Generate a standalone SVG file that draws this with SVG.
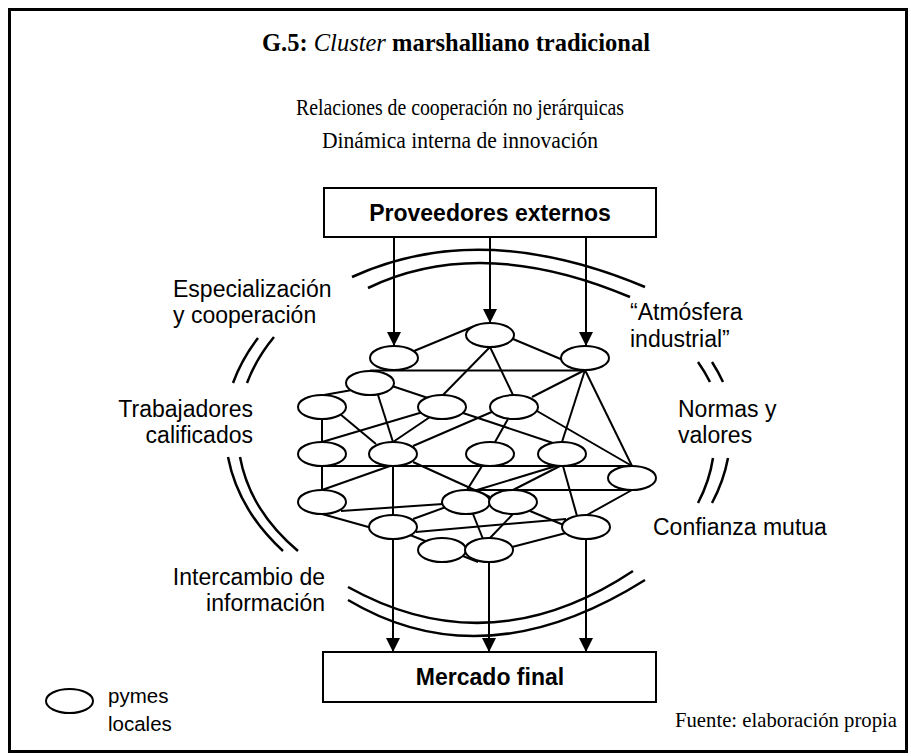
<svg xmlns="http://www.w3.org/2000/svg" width="911" height="756" viewBox="0 0 911 756">
<style>
.serif{font-family:"Liberation Serif","Times New Roman",serif;fill:#000}
.sans{font-family:"Liberation Sans",Arial,sans-serif;fill:#000}
.lbl{font-size:23px}
.box{fill:#fff;stroke:#000;stroke-width:2}
.node{fill:#fff;stroke:#000;stroke-width:2}
.edge{stroke:#000;stroke-width:2;fill:none}
.arc{stroke:#000;stroke-width:2.5;fill:none}
.arr{stroke:#000;stroke-width:2;fill:none;marker-end:url(#ah)}
</style>
<defs>
<marker id="ah" markerUnits="userSpaceOnUse" markerWidth="14" markerHeight="14" refX="14" refY="7" orient="auto">
<path d="M0,0 L14,7 L0,14 z" fill="#000"/>
</marker>
</defs>
<rect x="0" y="0" width="911" height="756" fill="#fff"/>
<rect x="9.5" y="9.5" width="897" height="742" fill="none" stroke="#000" stroke-width="3"/>

<g id="title">
<text class="serif" x="456" y="51" font-size="24.5" font-weight="bold" text-anchor="middle">G.5: <tspan font-style="italic" font-weight="normal">Cluster</tspan> marshalliano tradicional</text>
<text class="serif" x="460" y="115" font-size="24" text-anchor="middle" textLength="328" lengthAdjust="spacingAndGlyphs">Relaciones de cooperación no jerárquicas</text>
<text class="serif" x="460" y="148" font-size="24" text-anchor="middle" textLength="276" lengthAdjust="spacingAndGlyphs">Dinámica interna de innovación</text>
</g>

<g id="arcs">
<path class="arc" d="M352,277 Q481,218 645,287"/>
<path class="arc" d="M368,288 Q481,234 630,297"/>
<path class="arc" d="M258,338 A258,193 0 0 0 233,383"/>
<path class="arc" d="M274,337 A245,180 0 0 0 247,383"/>
<path class="arc" d="M228,457 A258,193 0 0 0 283,551"/>
<path class="arc" d="M240,457 A245,180 0 0 0 298,551"/>
<path class="arc" d="M712,362 A258,193 0 0 1 723,382"/>
<path class="arc" d="M698,362 A245,180 0 0 1 710,382"/>
<path class="arc" d="M728,458 A258,193 0 0 1 712,503"/>
<path class="arc" d="M713,458 A245,180 0 0 1 698,503"/>
<path class="arc" d="M348,600 Q484,681 645,580"/>
<path class="arc" d="M348,587 Q490,666 633,571"/>
</g>

<g id="labels">
<text class="sans lbl" x="173" y="297">Especialización</text>
<text class="sans lbl" x="173" y="323">y cooperación</text>
<text class="sans lbl" x="253" y="417" text-anchor="end">Trabajadores</text>
<text class="sans lbl" x="253" y="443" text-anchor="end">calificados</text>
<text class="sans lbl" x="325" y="585" text-anchor="end">Intercambio de</text>
<text class="sans lbl" x="325" y="611" text-anchor="end">información</text>
<text class="sans lbl" x="630" y="320">“Atmósfera</text>
<text class="sans lbl" x="630" y="347">industrial”</text>
<text class="sans lbl" x="678" y="417">Normas y</text>
<text class="sans lbl" x="678" y="443">valores</text>
<text class="sans lbl" x="653" y="535">Confianza mutua</text>
</g>

<g id="connectors">
<path class="arr" d="M394,237 L394,346"/>
<path class="arr" d="M490,237 L490,323"/>
<path class="arr" d="M586,237 L586,346"/>
<path class="arr" d="M393,539 L393,652"/>
<path class="arr" d="M489,562 L489,652"/>
<path class="arr" d="M586,539 L586,652"/>
<path class="edge" d="M414,351 L472,327"/>
<path class="edge" d="M513,339 L563,360"/>
<path class="edge" d="M370,370.5 L585,370.5"/>
<path class="edge" d="M490,347 L443,395"/>
<path class="edge" d="M490,347 L513,395"/>
<path class="edge" d="M585,370 L532,397"/>
<path class="edge" d="M585,370 L562,442"/>
<path class="edge" d="M585,370 L632,466"/>
<path class="edge" d="M352,390 L324,395"/>
<path class="edge" d="M392,386 L428,398"/>
<path class="edge" d="M378,395 L393,442"/>
<path class="edge" d="M322,419 L322,442"/>
<path class="edge" d="M340,414 L376,444"/>
<path class="edge" d="M423,412 L322,442"/>
<path class="edge" d="M430,417 L393,442"/>
<path class="edge" d="M463,413 L553,443"/>
<path class="edge" d="M508,419 L495,442"/>
<path class="edge" d="M537,411 L632,466"/>
<path class="edge" d="M413,446 L494,411"/>
<path class="edge" d="M322,466 L632,466"/>
<path class="edge" d="M322,466 L322,490"/>
<path class="edge" d="M390,466 L322,490"/>
<path class="edge" d="M393,466 L393,515"/>
<path class="edge" d="M413,462 L490,497"/>
<path class="edge" d="M482,466 L467,490"/>
<path class="edge" d="M556,466 L477,490"/>
<path class="edge" d="M560,466 L513,490"/>
<path class="edge" d="M563,466 L577,516"/>
<path class="edge" d="M466,490 L632,490"/>
<path class="edge" d="M632,490 L587,515"/>
<path class="edge" d="M341,511 L443,504"/>
<path class="edge" d="M322,514 L372,528"/>
<path class="edge" d="M413,519 L446,507"/>
<path class="edge" d="M416,532 L566,519"/>
<path class="edge" d="M530,511 L566,526"/>
<path class="edge" d="M473,514 L483,539"/>
<path class="edge" d="M513,514 L490,538"/>
<path class="edge" d="M512,547 L566,533"/>
<path class="edge" d="M410,535 L478,562"/>
</g>

<g id="proveedores">
<rect class="box" x="324" y="188" width="332" height="49"/>
<text class="sans" x="490" y="221" font-size="23" font-weight="bold" text-anchor="middle">Proveedores externos</text>
</g>
<g id="mercado">
<rect class="box" x="323" y="652" width="333" height="50"/>
<text class="sans" x="490" y="685" font-size="23" font-weight="bold" text-anchor="middle">Mercado final</text>
</g>

<g id="nA"><ellipse class="node" cx="394" cy="358" rx="24" ry="12"/></g>
<g id="nB"><ellipse class="node" cx="490" cy="335" rx="24" ry="12"/></g>
<g id="nC"><ellipse class="node" cx="585" cy="358" rx="24" ry="12"/></g>
<g id="nD"><ellipse class="node" cx="370" cy="383" rx="24" ry="12"/></g>
<g id="nE"><ellipse class="node" cx="322" cy="407" rx="24" ry="12"/></g>
<g id="nF"><ellipse class="node" cx="442" cy="407" rx="24" ry="12"/></g>
<g id="nG"><ellipse class="node" cx="514" cy="407" rx="24" ry="12"/></g>
<g id="nH"><ellipse class="node" cx="322" cy="454" rx="24" ry="12"/></g>
<g id="nI"><ellipse class="node" cx="393" cy="454" rx="24" ry="12"/></g>
<g id="nJ"><ellipse class="node" cx="490" cy="454" rx="24" ry="12"/></g>
<g id="nK"><ellipse class="node" cx="562" cy="454" rx="24" ry="12"/></g>
<g id="nL"><ellipse class="node" cx="632" cy="478" rx="24" ry="12"/></g>
<g id="nM"><ellipse class="node" cx="322" cy="502" rx="24" ry="12"/></g>
<g id="nN"><ellipse class="node" cx="466" cy="502" rx="24" ry="12"/></g>
<g id="nO"><ellipse class="node" cx="513" cy="502" rx="24" ry="12"/></g>
<g id="nP"><ellipse class="node" cx="393" cy="527" rx="24" ry="12"/></g>
<g id="nQ"><ellipse class="node" cx="586" cy="527" rx="24" ry="12"/></g>
<g id="nR"><ellipse class="node" cx="442" cy="550" rx="24" ry="12"/></g>
<g id="nS"><ellipse class="node" cx="489" cy="550" rx="24" ry="12"/></g>

<g id="legend">
<ellipse class="node" cx="69.5" cy="701" rx="23.5" ry="12"/>
<text class="sans" x="108" y="703" font-size="20.5">pymes</text>
<text class="sans" x="108" y="731" font-size="20.5">locales</text>
</g>

<g id="source">
<text class="serif" x="897" y="727" font-size="22" text-anchor="end" textLength="222" lengthAdjust="spacingAndGlyphs">Fuente: elaboración propia</text>
</g>
</svg>
